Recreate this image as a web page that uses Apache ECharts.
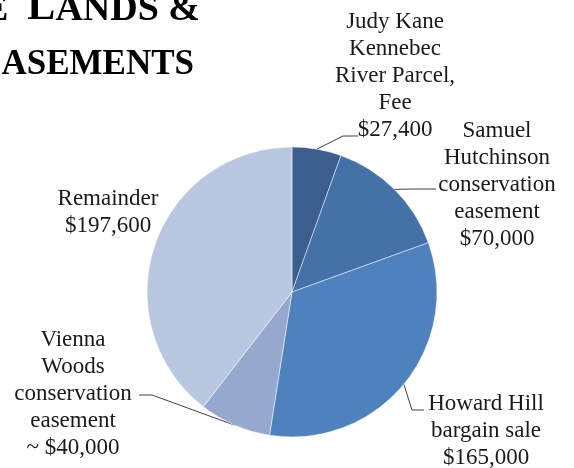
<!DOCTYPE html>
<html>
<head>
<meta charset="utf-8">
<script src="https://cdn.jsdelivr.net/npm/echarts@6/dist/echarts.min.js"></script>
<style>
  html, body { margin: 0; padding: 0; background: #fff; }
  #main { width: 574px; height: 468px; }
</style>
</head>
<body>
<div id="main"></div>
<script type="text/javascript">
// data
var names = [
  'Judy Kane\nKennebec\nRiver Parcel,\nFee',
  'Samuel\nHutchinson\nconservation\neasement',
  'Howard Hill\nbargain sale',
  'Vienna\nWoods\nconservation\neasement',
  'Remainder'
];
var values = [27400, 70000, 165000, 40000, 197600];
var approx = [false, false, false, true, false];
var colors = ['#3b5e8e', '#4472a8', '#4f81bd', '#95a9cf', '#b9c7e0'];

// where each label sits (center of the text block) and the bend of its leader line
var labelPos = [
  { x: 395, y: 76,  bend: [[343, 136], [358, 136]] },
  { x: 497, y: 185, bend: [[415, 189], [436, 189]] },
  { x: 486, y: 431, bend: [[412, 410], [424, 410]] },
  { x: 73,  y: 394, bend: [[152, 395], [139, 395]] },
  { x: 108, y: 212, bend: null }
];

function money(v) {
  return '$' + v.toString().replace(/\B(?=(\d{3})+(?!\d))/g, ',');
}

var myChart = echarts.init(document.getElementById('main'));

var seriesData = names.map(function (n, i) {
  return {
    name: n,
    value: values[i],
    itemStyle: { color: colors[i] },
    labelLine: { show: labelPos[i].bend !== null }
  };
});

var labelFont = '"Liberation Serif", "Times New Roman", serif';

function titleRich(big, small) {
  return {
    b: { fontFamily: labelFont, fontWeight: 'bold', fontSize: big, fill: '#000', verticalAlign: 'bottom' },
    s: { fontFamily: labelFont, fontWeight: 'bold', fontSize: small, fill: '#000', verticalAlign: 'bottom' }
  };
}

var option = {
  animation: false,
  graphic: [
    {
      type: 'text',
      x: 200, y: 29,
      style: {
        text: '{b|F}{s|EE  }{b|L}{s|ANDS &}',
        align: 'right',
        verticalAlign: 'bottom',
        fill: '#000',
        rich: titleRich(42, 38)
      }
    },
    {
      type: 'text',
      x: 194, y: 82,
      style: {
        text: '{b|E}{s|ASEMENTS}',
        align: 'right',
        verticalAlign: 'bottom',
        fill: '#000',
        rich: titleRich(42, 35)
      }
    }
  ],
  series: [{
    type: 'pie',
    center: [292, 292],
    radius: 145,
    startAngle: 90,
    clockwise: true,
    avoidLabelOverlap: false,
    itemStyle: { borderColor: 'rgba(255,255,255,0.6)', borderWidth: 0.8 },
    label: {
      show: true,
      position: 'outside',
      fontFamily: labelFont,
      fontSize: 23,
      lineHeight: 27,
      color: '#1a1a1a',
      align: 'center',
      formatter: function (p) {
        return p.name + '\n' + (approx[p.dataIndex] ? '~ ' : '') + money(p.value);
      }
    },
    labelLine: {
      show: true,
      lineStyle: { color: '#404040', width: 1 }
    },
    labelLayout: function (params) {
      var pos = labelPos[params.dataIndex];
      var out = { x: pos.x, y: pos.y, align: 'center', verticalAlign: 'middle' };
      if (pos.bend && params.labelLinePoints) {
        out.labelLinePoints = [params.labelLinePoints[0], pos.bend[0], pos.bend[1]];
      }
      return out;
    },
    emphasis: { disabled: true },
    data: seriesData
  }]
};

myChart.setOption(option);
</script>
</body>
</html>
